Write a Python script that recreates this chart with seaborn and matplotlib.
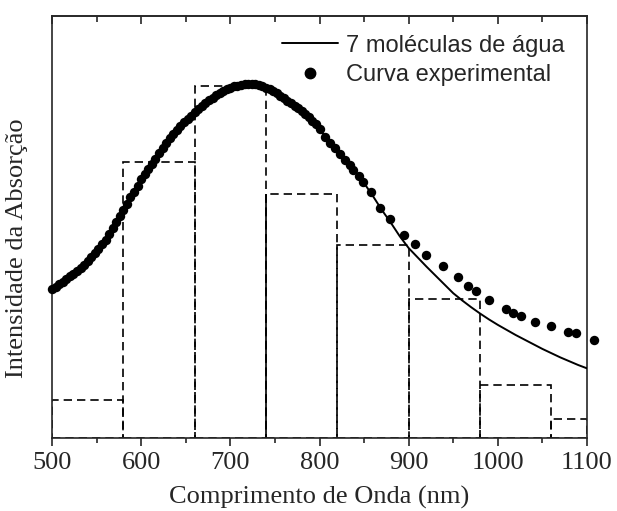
import numpy as np
import pandas as pd
import matplotlib
matplotlib.use("Agg")
import matplotlib.pyplot as plt
from matplotlib.lines import Line2D
import seaborn as sns

# ---- data ----
bin_edges = [500, 580, 660, 740, 820, 900, 980, 1060, 1100]
bin_heights = [0.090, 0.655, 0.834, 0.578, 0.457, 0.329, 0.126, 0.044]

model_x = [500, 510, 520, 530, 540, 550, 560, 570, 580, 590, 600, 610, 620, 630,
           640, 650, 660, 670, 680, 690, 700, 710, 720, 730, 740, 750, 760, 770,
           780, 790, 800, 810, 820, 830, 840, 850, 860, 870, 880, 890, 900, 910,
           920, 930, 940, 950, 960, 970, 980, 990, 1000, 1010, 1020, 1030, 1040,
           1050, 1060, 1070, 1080, 1090, 1100]
model_y = [0.351, 0.367, 0.383, 0.399, 0.420, 0.443, 0.470, 0.503, 0.540, 0.577,
           0.613, 0.645, 0.675, 0.705, 0.730, 0.752, 0.772, 0.794, 0.806, 0.819,
           0.830, 0.836, 0.839, 0.838, 0.830, 0.820, 0.806, 0.791, 0.776, 0.757,
           0.732, 0.705, 0.680, 0.657, 0.632, 0.604, 0.573, 0.540, 0.510, 0.478,
           0.450, 0.428, 0.406, 0.385, 0.364, 0.343, 0.326, 0.310, 0.295, 0.281,
           0.268, 0.256, 0.244, 0.233, 0.222, 0.211, 0.201, 0.191, 0.182, 0.173,
           0.165]

exp_x = [500, 504, 508, 512, 516, 520, 524, 528, 532, 536, 540, 544, 548, 552,
         556, 560, 564, 568, 572, 576, 580, 584, 588, 592, 596, 600, 604, 608,
         612, 616, 620, 624, 628, 632, 636, 640, 644, 648, 652, 656, 660, 664,
         668, 672, 676, 680, 684, 688, 692, 696, 700, 704, 708, 712, 716, 720,
         724, 728, 732, 736, 740, 744, 748, 752, 756, 760, 764, 768, 772, 776,
         780, 784, 788, 792, 796, 800, 806, 812, 817, 823, 829, 834, 838, 844,
         849, 858, 868, 879, 895, 907, 919, 938, 955, 967, 976, 990, 1009, 1017,
         1026, 1042, 1060, 1079, 1088, 1108]
exp_y = [0.352, 0.357, 0.364, 0.370, 0.377, 0.383, 0.389, 0.396, 0.403, 0.411,
         0.420, 0.429, 0.438, 0.448, 0.459, 0.470, 0.483, 0.497, 0.511, 0.525,
         0.540, 0.555, 0.570, 0.584, 0.598, 0.613, 0.625, 0.638, 0.650, 0.662,
         0.675, 0.687, 0.699, 0.710, 0.720, 0.730, 0.739, 0.748, 0.756, 0.764,
         0.772, 0.779, 0.787, 0.794, 0.800, 0.806, 0.812, 0.817, 0.822, 0.826,
         0.830, 0.833, 0.835, 0.837, 0.838, 0.839, 0.839, 0.838, 0.837, 0.834,
         0.830, 0.826, 0.822, 0.817, 0.811, 0.805, 0.799, 0.793, 0.787, 0.781,
         0.775, 0.768, 0.760, 0.752, 0.743, 0.733, 0.714, 0.700, 0.686, 0.672,
         0.659, 0.648, 0.636, 0.620, 0.607, 0.582, 0.545, 0.519, 0.481, 0.459,
         0.434, 0.408, 0.382, 0.360, 0.349, 0.327, 0.306, 0.297, 0.289, 0.276,
         0.265, 0.252, 0.248, 0.232]

x_ticks = [500, 600, 700, 800, 900, 1000, 1100]
x_label = "Comprimento de Onda (nm)"
y_label = "Intensidade da Absorção"
legend_model = "7 moléculas de água"
legend_exp = "Curva experimental"

# ---- style ----
sns.set_style("ticks")
plt.rcParams["font.family"] = ["Liberation Serif", "DejaVu Serif"]

fig = plt.figure(figsize=(6.17, 5.11), dpi=100)
ax = fig.add_axes([0.0843, 0.1429, 0.9514 - 0.0843, 0.9687 - 0.1429])

# histogram (dashed outline bars)
widths = np.diff(bin_edges)
ax.bar(bin_edges[:-1], bin_heights, width=widths, align="edge", fill=False,
       edgecolor="black", linewidth=1.2, linestyle=(0, (5, 3)), zorder=2)
# solid overlap edge at 740
ax.vlines(bin_edges[3], 0, bin_heights[3], color="black", linewidth=1.2, zorder=2)

df_model = pd.DataFrame({"x": model_x, "y": model_y})
df_exp = pd.DataFrame({"x": exp_x, "y": exp_y})

sns.lineplot(data=df_model, x="x", y="y", ax=ax, color="black", linewidth=1.4,
             zorder=3, legend=False)
sns.scatterplot(data=df_exp, x="x", y="y", ax=ax, color="black", s=46,
                edgecolor="black", linewidth=0, zorder=4, clip_on=False,
                legend=False)

ax.set_xlim(500, 1100)
ax.set_ylim(0, 1.0)
ax.set_xticks(x_ticks)
ax.set_xticks(np.arange(550, 1100, 100), minor=True)
ax.set_yticks([])
ax.tick_params(axis="x", which="major", direction="out", length=6, width=1.2,
               labelsize=19, pad=4)
ax.tick_params(axis="x", which="minor", direction="out", length=3.5, width=1.2)
for s in ax.spines.values():
    s.set_linewidth(1.2)
    s.set_visible(True)

top = ax.secondary_xaxis("top")
top.set_xticks(x_ticks)
top.set_xticks(np.arange(550, 1100, 100), minor=True)
top.tick_params(axis="x", which="major", direction="in", length=6, width=1.2,
                labeltop=False)
top.tick_params(axis="x", which="minor", direction="in", length=4, width=1.2)
top.spines["top"].set_linewidth(1.2)

ax.set_xlabel(x_label, fontsize=19, labelpad=9)
ax.set_ylabel(y_label, fontsize=19)
ax.yaxis.set_label_coords(-0.045, 0.45)

handles = [Line2D([], [], color="black", linewidth=1.4),
           Line2D([], [], color="black", marker="o", linestyle="none", markersize=7.5)]
leg = ax.legend(handles, [legend_model, legend_exp], loc="upper right",
                bbox_to_anchor=(0.975, 0.978), frameon=False,
                prop={"family": ["Liberation Sans", "DejaVu Sans"], "size": 17},
                handlelength=2.4, handletextpad=0.3, labelspacing=0.3,
                borderaxespad=0)

fig.savefig("out.png", dpi=100)
